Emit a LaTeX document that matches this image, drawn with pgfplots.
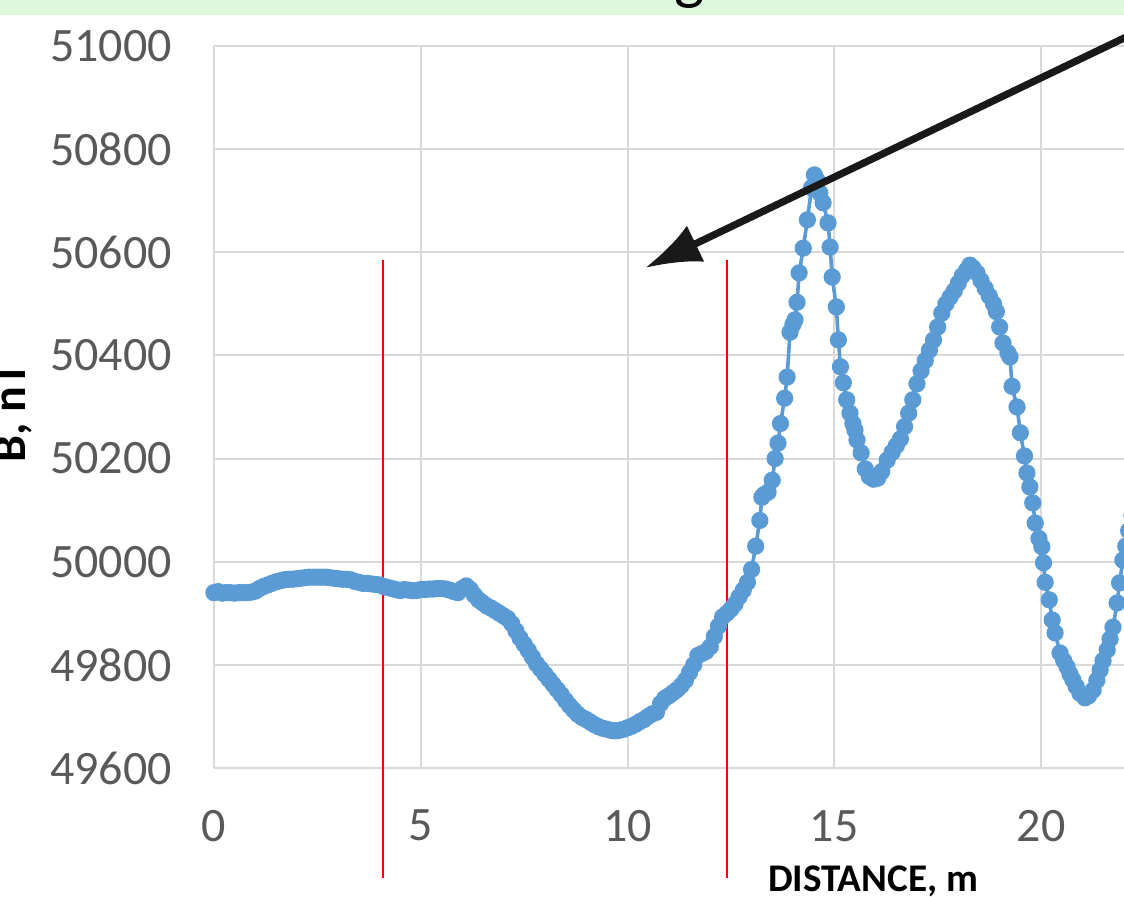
\documentclass[border=0pt]{standalone}
\usepackage{fontspec}
\setmainfont{Carlito}
\usepackage{pgfplots}
\pgfplotsset{compat=1.18}
\usepackage{pgfplotstable}
\usetikzlibrary{arrows.meta}
\definecolor{ser}{HTML}{5B9BD5}
\definecolor{gridc}{HTML}{D9D9D9}
\definecolor{tickc}{HTML}{595959}
\definecolor{banner}{HTML}{DDF8DB}

\pgfplotstableread{
x y
0.0 49940
0.1 49942
0.2 49939
0.3 49940
0.4 49940
0.5 49939
0.6 49940
0.7 49940
0.8 49940
0.9 49941
1.0 49943
1.1 49948
1.2 49952
1.3 49955
1.4 49958
1.5 49961
1.6 49963
1.7 49965
1.8 49966
1.9 49966
2.0 49967
2.1 49968
2.2 49969
2.3 49970
2.4 49970
2.5 49970
2.6 49970
2.7 49970
2.8 49969
2.9 49968
3.0 49967
3.1 49966
3.2 49966
3.3 49965
3.4 49962
3.5 49960
3.6 49958
3.7 49958
3.8 49957
3.9 49956
4.0 49955
4.1 49952
4.2 49950
4.3 49948
4.4 49946
4.5 49944
4.6 49946
4.7 49945
4.8 49944
4.9 49944
5.0 49946
5.1 49946
5.2 49947
5.3 49947
5.4 49948
5.5 49948
5.6 49947
5.7 49945
5.8 49942
5.9 49940
6.0 49948
6.1 49953
6.2 49946
6.3 49935
6.4 49926
6.5 49920
6.6 49914
6.7 49910
6.8 49905
6.9 49900
7.0 49895
7.1 49890
7.2 49880
7.3 49866
7.4 49852
7.5 49840
7.6 49828
7.7 49815
7.8 49802
7.9 49792
8.0 49782
8.1 49772
8.2 49762
8.3 49752
8.4 49742
8.5 49731
8.6 49721
8.7 49712
8.8 49704
8.9 49698
9.0 49694
9.1 49689
9.2 49684
9.3 49680
9.4 49677
9.5 49675
9.6 49673
9.7 49672
9.8 49673
9.9 49675
10.0 49678
10.1 49681
10.2 49685
10.3 49690
10.4 49694
10.5 49700
10.6 49705
10.7 49708
10.8 49725
10.9 49735
11.0 49740
11.1 49746
11.2 49752
11.3 49760
11.4 49770
11.5 49785
11.6 49800
11.7 49818
11.8 49822
11.9 49826
12.0 49835
12.1 49855
12.2 49875
12.3 49893
12.4 49900
12.5 49908
12.6 49918
12.7 49932
12.8 49945
12.9 49960
13.0 49985
13.1 50030
13.2 50080
13.25 50125
13.3 50130
13.4 50135
13.5 50158
13.57 50200
13.64 50230
13.7 50268
13.8 50317
13.86 50358
13.93 50445
14.0 50460
14.05 50469
14.1 50503
14.15 50560
14.25 50608
14.35 50663
14.45 50725
14.52 50750
14.58 50740
14.65 50715
14.73 50696
14.85 50657
14.9 50610
14.95 50552
15.05 50494
15.1 50430
15.15 50378
15.22 50347
15.3 50314
15.38 50288
15.45 50268
15.5 50255
15.55 50236
15.65 50211
15.75 50180
15.85 50165
15.95 50160
16.05 50162
16.15 50175
16.28 50197
16.4 50212
16.5 50225
16.6 50238
16.7 50262
16.8 50288
16.9 50314
17.0 50345
17.1 50370
17.2 50390
17.3 50410
17.4 50430
17.5 50455
17.6 50482
17.7 50500
17.8 50513
17.9 50525
18.0 50540
18.1 50555
18.2 50565
18.28 50575
18.35 50570
18.45 50560
18.55 50545
18.65 50530
18.75 50515
18.85 50500
18.92 50485
19.0 50455
19.08 50424
19.2 50405
19.25 50397
19.3 50340
19.42 50300
19.5 50250
19.6 50205
19.66 50172
19.73 50145
19.8 50114
19.86 50075
19.95 50045
20.02 50029
20.06 49998
20.1 49960
20.2 49926
20.27 49887
20.34 49862
20.46 49823
20.55 49808
20.63 49796
20.7 49782
20.77 49771
20.85 49758
20.94 49745
21.06 49736
21.15 49740
21.26 49751
21.35 49770
21.43 49790
21.5 49808
21.6 49829
21.67 49850
21.74 49873
21.84 49920
21.9 49959
21.98 50003
22.05 50030
22.12 50060
22.2 50090
}\magdata

\begin{document}
\begin{tikzpicture}
\useasboundingbox[x=0.25pt,y=0.25pt] (0,0) rectangle (1124,897);
\fill[banner,x=0.25pt,y=0.25pt] (0,882) rectangle (1124,905);
\path[x=0.25pt,y=0.25pt] (690,899) node[anchor=base,inner sep=0,font=\fontsize{16}{18}\selectfont]{g};
\begin{axis}[
  at={(53.5pt,32.25pt)}, anchor=south west,
  scale only axis, width=227.5pt, height=180.5pt,
  xmin=0, xmax=22.007, ymin=49600, ymax=51000,
  xtick={0,5,10,15,20}, ytick={49600,49800,...,51000},
  grid=major, major grid style={gridc,line width=0.5pt},
  axis line style={draw=none}, major tick length=0,
  scaled y ticks=false,
  /pgf/number format/1000 sep={},
  /pgf/number format/assume math mode=true,
  tick label style={font=\fontsize{12}{14}\selectfont, text=tickc},
  yticklabel style={xshift=-7pt},
  xticklabel style={yshift=-7pt},
  clip=false,
]
\addplot[color=ser, line width=0.9pt, mark=*, mark size=1.7pt, mark options={fill=ser,draw=ser}] table[x=x,y=y] {\magdata};
\draw[red, line width=0.5pt] (axis cs:4.09,50585) -- (axis cs:4.09,49387);
\draw[red, line width=0.5pt] (axis cs:12.41,50585) -- (axis cs:12.41,49387);
\end{axis}
\draw[x=0.25pt,y=0.25pt, black!90, line width=1.8pt, -{Latex[length=14pt,width=10pt]}] (1145,869) -- (645,629);
\path[x=0.25pt,y=0.25pt] (873,5) node[anchor=base,inner sep=0,font=\bfseries\fontsize{9.8}{11}\selectfont]{DISTANCE, m};
\path[x=0.25pt,y=0.25pt] (25,434) node[rotate=90,anchor=base west,inner sep=0,font=\bfseries\fontsize{12}{14}\selectfont]{B, nT};
\end{tikzpicture}
\end{document}
